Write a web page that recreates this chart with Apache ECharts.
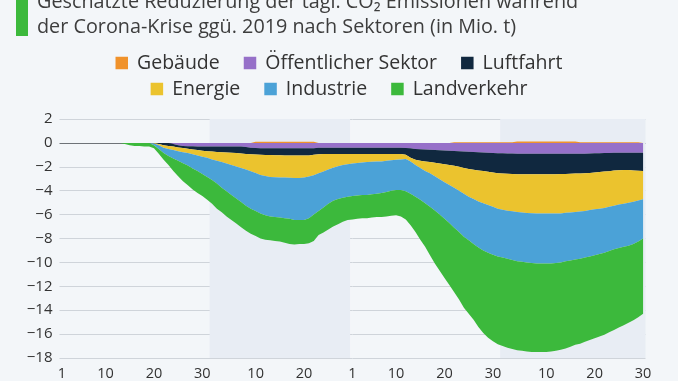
<!DOCTYPE html>
<html><head><meta charset="utf-8">
<script src="https://cdn.jsdelivr.net/npm/echarts@6/dist/echarts.min.js"></script>
<style>html,body{margin:0;padding:0;background:#f3f6f9;}#c{width:678px;height:381px;}</style>
</head><body><div id="c"></div>
<script>
const monthNames = ['Jan','Feb','Mar','Apr'];
const monthDays = [31,29,31,30];
const tickLabels = ['Jan 1','Jan 10','Jan 20','Jan 30','Feb 10','Feb 20','Mar 1','Mar 10','Mar 20','Mar 30','Apr 10','Apr 20','Apr 30'];
const bandStarts = ['Jan 1','Feb 1','Mar 1','Apr 1'];
const categories = [];
monthNames.forEach((m,i)=>{for(let d=1; d<=monthDays[i]; d++) categories.push(m+' '+d);});

const gebaeude = [0,0,0,0,0,0,0,0,0,0, 0,0,0,0,0,0,0,0,0,0, 0,0,0,0,0,0,0,0,0,0, 0,0,0,0,0,0,0,0,0,0,
0.1,0.1,0.1,0.1,0.1,0.1,0.1,0.1,0.1,0.1, 0.1,0.1,0.1,0,0,0,0,0,0,0, 0,0,0,0,0,0,0,0,0,0, 0,0,0,0,0,0,0,0,0,0,
0,0.05,0.05,0.05,0.05,0.05,0.05,0.05,0.05,0.05, 0.05,0.05,0.05,0.05,0.12,0.12,0.12,0.12,0.12,0.12, 0.12,0.12,0.12,0.12,0.12,0.12,0.12,0.05,0.05,0.05, 0.05,0.05,0.05,0.05,0.05,0.05,0.05,0.05,0.05,0.05, 0.05];
const oeffentlich = [0,0,0,0,0,0,0,0,0,0, 0,0,0,0,0,0,0,0,0,0, 0,0,0,-0.1,-0.2,-0.25,-0.27,-0.28,-0.3,-0.3,
-0.3,-0.3,-0.3,-0.3,-0.3,-0.3,-0.3,-0.3,-0.35,-0.4, -0.42,-0.45,-0.45,-0.45,-0.45,-0.45,-0.45,-0.45,-0.45,-0.45,
-0.45,-0.45,-0.45,-0.4,-0.4,-0.4,-0.4,-0.4,-0.4,-0.4, -0.4,-0.4,-0.4,-0.4,-0.4,-0.4,-0.4,-0.4,-0.4,-0.4,
-0.4,-0.42,-0.45,-0.5,-0.53,-0.56,-0.58,-0.6,-0.62,-0.64, -0.65,-0.68,-0.7,-0.72,-0.74,-0.76,-0.78,-0.8,-0.82,-0.84,
-0.86,-0.87,-0.88,-0.88,-0.9,-0.9,-0.9,-0.9,-0.9,-0.9, -0.9,-0.9,-0.9,-0.9,-0.9,-0.9,-0.9,-0.9,-0.9,-0.88,
-0.87,-0.86,-0.85,-0.84,-0.83,-0.82,-0.82,-0.82,-0.82,-0.82, -0.82];
const luftfahrt = [0,0,0,0,0,0,0,0,0,0, 0,0,0,0,0,0,0,0,0,0, -0.1,-0.2,-0.25,-0.2,-0.18,-0.17,-0.21,-0.27,-0.3,-0.35,
-0.4,-0.43,-0.46,-0.48,-0.5,-0.52,-0.55,-0.58,-0.57,-0.55, -0.56,-0.55,-0.57,-0.57,-0.58,-0.58,-0.6,-0.61,-0.61,-0.61,
-0.61,-0.6,-0.55,-0.55,-0.53,-0.52,-0.52,-0.52,-0.52,-0.52, -0.52,-0.52,-0.52,-0.52,-0.52,-0.52,-0.52,-0.52,-0.52,-0.52,
-0.52,-0.58,-0.8,-0.92,-0.97,-1.0,-1.02,-1.06,-1.1,-1.14, -1.19,-1.24,-1.3,-1.38,-1.44,-1.49,-1.52,-1.56,-1.6,-1.64,
-1.67,-1.69,-1.7,-1.72,-1.72,-1.73,-1.73,-1.73,-1.73,-1.73, -1.73,-1.73,-1.73,-1.7,-1.7,-1.68,-1.67,-1.66,-1.65,-1.64,
-1.61,-1.58,-1.55,-1.53,-1.49,-1.46,-1.44,-1.44,-1.48,-1.51, -1.53];
const energie = [0,0,0,0,0,0,0,0,0,0, 0,0,0,0,0,0,0,0,0,-0.05, -0.1,-0.2,-0.25,-0.3,-0.32,-0.36,-0.37,-0.4,-0.45,-0.5,
-0.55,-0.65,-0.74,-0.82,-0.92,-1.03,-1.13,-1.22,-1.3,-1.43, -1.54,-1.68,-1.76,-1.83,-1.85,-1.87,-1.85,-1.86,-1.87,-1.87,
-1.84,-1.77,-1.7,-1.6,-1.47,-1.3,-1.16,-1.03,-0.93,-0.86, -0.8,-0.76,-0.71,-0.68,-0.66,-0.64,-0.63,-0.58,-0.53,-0.5,
-0.46,-0.35,-0.3,-0.43,-0.6,-0.79,-0.95,-1.14,-1.33,-1.52, -1.68,-1.83,-2.0,-2.15,-2.32,-2.45,-2.6,-2.69,-2.78,-2.87,
-2.97,-3.04,-3.1,-3.13,-3.16,-3.19,-3.23,-3.26,-3.27,-3.27, -3.27,-3.27,-3.27,-3.3,-3.25,-3.24,-3.21,-3.19,-3.15,-3.1,
-3.07,-3.06,-3.05,-2.98,-2.93,-2.87,-2.84,-2.74,-2.62,-2.49, -2.37];
const industrie = [0,0,0,0,0,0,0,0,0,0, 0,0,0,0,0,0,0,0,0,-0.15, -0.3,-0.45,-0.6,-0.7,-0.8,-0.92,-1.05,-1.2,-1.3,-1.45,
-1.6,-1.72,-1.9,-2.15,-2.33,-2.5,-2.67,-2.85,-3.03,-3.12, -3.18,-3.22,-3.27,-3.3,-3.32,-3.35,-3.4,-3.43,-3.52,-3.52,
-3.55,-3.48,-3.3,-3.15,-3.0,-2.88,-2.77,-2.75,-2.75,-2.72, -2.73,-2.72,-2.72,-2.75,-2.72,-2.69,-2.65,-2.6,-2.55,-2.53,
-2.57,-2.7,-2.7,-2.65,-2.65,-2.7,-2.8,-2.85,-2.95,-3.05, -3.18,-3.35,-3.45,-3.6,-3.65,-3.75,-3.85,-3.95,-4.0,-4.0,
-4.0,-4.0,-4.02,-4.07,-4.12,-4.13,-4.14,-4.16,-4.2,-4.2, -4.2,-4.2,-4.15,-4.1,-4.05,-4.03,-3.97,-3.95,-3.9,-3.88,
-3.85,-3.8,-3.75,-3.7,-3.65,-3.65,-3.6,-3.6,-3.53,-3.43, -3.28];
const landverkehr = [0,0,0,0,0,0,0,0,0,0, 0,0,0,-0.1,-0.2,-0.25,-0.25,-0.3,-0.3,-0.25, -0.4,-0.55,-0.75,-1.05,-1.3,-1.5,-1.65,-1.75,-1.85,-1.85,
-1.9,-2.0,-2.1,-2.05,-2.1,-2.1,-2.1,-2.1,-2.1,-2.1, -2.1,-2.1,-2.05,-2.0,-2.0,-2.0,-2.05,-2.1,-2.05,-2.0,
-2.0,-2.1,-2.2,-2.0,-2.1,-2.15,-2.15,-2.1,-2.0,-1.95, -1.95,-1.95,-1.95,-1.95,-1.95,-1.95,-2.0,-2.05,-2.1,-2.1,
-2.2,-2.35,-2.65,-2.95,-3.35,-3.65,-4.05,-4.45,-4.7,-4.95, -5.2,-5.4,-5.65,-5.95,-6.15,-6.35,-6.65,-6.9,-7.1,-7.25,
-7.35,-7.4,-7.45,-7.45,-7.45,-7.45,-7.45,-7.45,-7.4,-7.4, -7.4,-7.35,-7.35,-7.3,-7.3,-7.2,-7.15,-7.1,-7.05,-7.0,
-6.95,-6.9,-6.85,-6.8,-6.75,-6.65,-6.55,-6.45,-6.4,-6.35, -6.3];

const seriesNames = ['Gebäude','Öffentlicher Sektor','Luftfahrt','Energie','Industrie','Landverkehr'];
const seriesData = [gebaeude, oeffentlich, luftfahrt, energie, industrie, landverkehr];
const colors = ['#f0922b','#9670c9','#10283f','#ebc32e','#4ba2d7','#3cb93c'];

const yTicks = [-18,-16,-14,-12,-10,-8,-6,-4,-2,0,2];
const splitColors = yTicks.map(v => v === 0 ? '#6e7378' : '#cfd4da');

const chart = echarts.init(document.getElementById('c'), null, {renderer:'canvas'});
const FONT = 'Open Sans';
const legendText = {fontFamily: FONT, fontSize: 19.5, color: '#333', padding: [0,0,0,4]};
chart.setOption({
  backgroundColor: '#f3f6f9',
  animation: false,
  color: colors,
  textStyle: {fontFamily: FONT},
  title: {
    text: 'Geschätzte Reduzierung der tägl. CO₂ Emissionen während\nder Corona-Krise ggü. 2019 nach Sektoren (in Mio. t)',
    left: 32, top: -15,
    textStyle: {fontFamily: "'Liberation Sans Narrow', 'Open Sans'", fontSize: 19.8, fontWeight: 'normal', color: '#3d3d3d', lineHeight: 25}
  },
  graphic: [{type:'rect', shape:{x:16, y:0, width:12, height:36}, style:{fill:'#3cb93c'}}],
  legend: [
    {data: seriesNames.slice(0,3), top: 48, left: 'center', icon: 'rect', itemWidth: 12.5, itemHeight: 12.5, itemGap: 24,
     textStyle: legendText},
    {data: seriesNames.slice(3), top: 74, left: 'center', icon: 'rect', itemWidth: 12.5, itemHeight: 12.5, itemGap: 24,
     textStyle: legendText}
  ],
  grid: {left: 59.5, right: 32.5, top: 119, bottom: 23},
  xAxis: {
    type: 'category', data: categories, boundaryGap: true,
    axisLine: {show: false}, axisTick: {show: false},
    axisLabel: {interval: (i, v) => tickLabels.includes(v), formatter: v => v.split(' ')[1],
      fontFamily: FONT, fontSize: 14.5, color: '#333', margin: 8},
    splitArea: {show: true, interval: (i, v) => bandStarts.includes(v),
      areaStyle: {color: ['rgba(0,0,0,0)', '#e8edf4']}},
    splitLine: {show: false}
  },
  yAxis: {
    type: 'value', min: -18, max: 2, interval: 2,
    axisLine: {show: false}, axisTick: {show: false},
    axisLabel: {fontFamily: FONT, fontSize: 15, color: '#333', margin: 7, formatter: v => String(v).replace('-', '\u2212')},
    splitLine: {lineStyle: {color: splitColors, width: 1}}
  },
  series: seriesNames.map((n, i) => ({
    name: n, type: 'line', stack: 'total', data: seriesData[i],
    showSymbol: false, symbol: 'none', lineStyle: {width: 0}, areaStyle: {color: colors[i], opacity: 1},
    emphasis: {disabled: true}
  }))
});
</script></body></html>
